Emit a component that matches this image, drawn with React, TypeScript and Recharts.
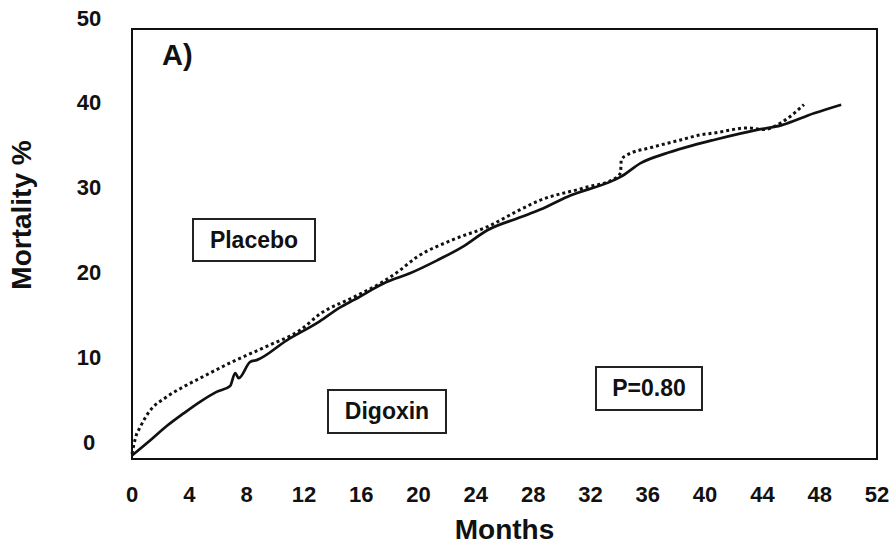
import React from 'react';
import { LineChart, Line, XAxis, YAxis, Label, ReferenceArea } from 'recharts';

// Cumulative mortality (%) by month of follow-up
const digoxinMonths = [
  0, 1.3, 2.4, 3.6, 4.8, 5.9, 6.85, 7.2, 7.45, 8.25, 8.7, 10.8, 13.1, 14.5, 15.5, 17.8, 19.4,
  21.3, 23.1, 24.8, 27.1, 28.5, 30.4, 33.6, 34.1, 35.5, 37.4, 39.2, 40.6, 43.7, 45.3, 47.6, 49.5,
];
const digoxinMortality = [
  0.4, 2.2, 3.8, 5.3, 6.7, 7.8, 8.5, 10.0, 9.4, 11.3, 11.5, 13.8, 16.0, 17.6, 18.5, 20.6, 21.6,
  23.1, 24.7, 26.6, 28.1, 29.0, 30.5, 32.4, 32.8, 34.4, 35.6, 36.5, 37.1, 38.3, 38.8, 40.2, 41.2,
];

const placeboMonths = [
  0, 0.25, 0.6, 1.2, 2.4, 3.6, 4.75, 7.0, 9.4, 11.75, 13.15, 15.45, 17.5, 18.5, 19.9, 22.4, 24.8,
  27.1, 28.5, 31.5, 33.8, 34.1, 34.15, 34.5, 36.2, 38.3, 39.7, 40.6, 43.0, 44.1, 45.3, 46.9,
];
const placeboMortality = [
  0.6, 2.5, 3.8, 5.5, 7.2, 8.4, 9.4, 11.3, 13.1, 15.0, 16.9, 18.8, 20.6, 21.7, 23.5, 25.5, 27.0,
  29.0, 30.1, 31.5, 32.7, 33.3, 34.8, 35.3, 36.2, 37.1, 37.7, 37.9, 38.5, 38.3, 39.1, 41.2,
];

const monthTicks = [0, 4, 8, 12, 16, 20, 24, 28, 32, 36, 40, 44, 48, 52];
const mortalityTicks = [0, 10, 20, 30, 40, 50];

const digoxinData = digoxinMonths.map((month, i) => ({ month, mortality: digoxinMortality[i] }));
const placeboData = placeboMonths.map((month, i) => ({ month, mortality: placeboMortality[i] }));

const FONT = '"Liberation Sans", Arial, sans-serif';

const YTick = (props: any) => {
  const { x, y, payload } = props;
  // labels sit a little above their gridline, more so towards the bottom
  const lift = 11 + (50 - payload.value) * 0.12;
  return (
    <text x={x - 35} y={y - lift} textAnchor="middle" dominantBaseline="central"
      fontFamily={FONT} fontWeight="bold" fontSize={22} fill="#111">
      {payload.value}
    </text>
  );
};

const XTick = (props: any) => {
  const { x, y, payload } = props;
  return (
    <text x={x} y={y + 27} textAnchor="middle" dominantBaseline="central"
      fontFamily={FONT} fontWeight="bold" fontSize={22} fill="#111">
      {payload.value}
    </text>
  );
};

const boxStyle: React.CSSProperties = {
  position: 'absolute',
  boxSizing: 'border-box',
  border: '2px solid #222',
  background: '#fff',
  display: 'flex',
  alignItems: 'center',
  justifyContent: 'center',
  fontFamily: FONT,
  fontWeight: 'bold',
  fontSize: 23,
  color: '#111',
};

export default function App() {
  return (
    <div style={{ position: 'absolute', left: 0, top: 0, width: 890, height: 546, background: '#fff' }}>
      <LineChart width={890} height={546} margin={{ top: 29, right: 13, left: 0, bottom: 0 }}>
        <XAxis
          type="number"
          dataKey="month"
          domain={[0, 52]}
          ticks={monthTicks}
          height={87}
          tickLine={false}
          axisLine={{ stroke: '#111', strokeWidth: 2 }}
          tick={<XTick />}
        >
          <Label value="Months" position="insideBottom" offset={7}
            style={{ fontFamily: FONT, fontWeight: 'bold', fontSize: 28, fill: '#111' }} />
        </XAxis>
        <YAxis
          type="number"
          domain={[0, 50]}
          ticks={mortalityTicks}
          width={132}
          tickLine={false}
          axisLine={{ stroke: '#111', strokeWidth: 2 }}
          tick={<YTick />}
        />
        {/* plot frame */}
        <ReferenceArea x1={0} x2={52} y1={0} y2={50} fill="none" fillOpacity={0}
          stroke="#111" strokeWidth={2} />
        <Line
          data={digoxinData}
          dataKey="mortality"
          type="monotone"
          stroke="#111"
          strokeWidth={2.7}
          dot={false}
          isAnimationActive={false}
        />
        <Line
          data={placeboData}
          dataKey="mortality"
          type="monotone"
          stroke="#111"
          strokeWidth={3}
          strokeDasharray="3 3"
          dot={false}
          isAnimationActive={false}
        />
      </LineChart>
      <div style={{
        position: 'absolute', left: 22, top: 215, transform: 'translate(-50%, -50%) rotate(-90deg)',
        whiteSpace: 'nowrap', fontFamily: FONT, fontWeight: 'bold', fontSize: 28, color: '#111',
      }}>
        Mortality %
      </div>
      <div style={{ position: 'absolute', left: 162, top: 39, fontFamily: FONT, fontWeight: 'bold', fontSize: 29, color: '#111' }}>
        A)
      </div>
      <div style={{ ...boxStyle, left: 192, top: 218, width: 124, height: 44 }}>Placebo</div>
      <div style={{ ...boxStyle, left: 327, top: 389, width: 120, height: 45 }}>Digoxin</div>
      <div style={{ ...boxStyle, left: 595, top: 366, width: 108, height: 45 }}>P=0.80</div>
    </div>
  );
}
